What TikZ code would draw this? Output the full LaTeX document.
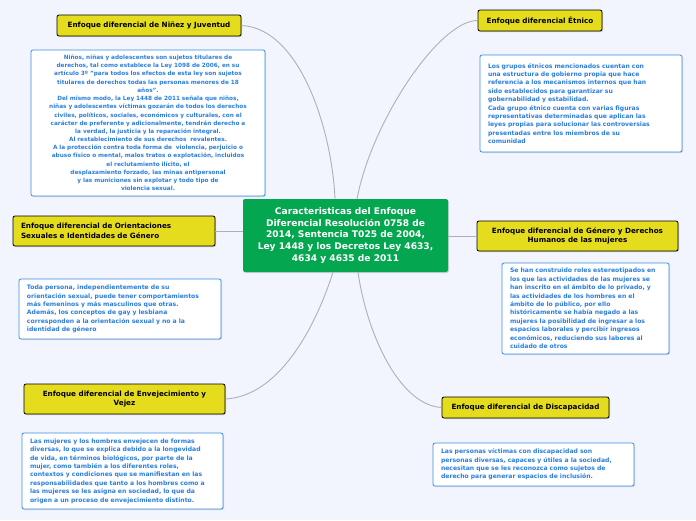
\documentclass[tikz,border=0pt]{standalone}
\usepackage{fontspec}
\setmainfont{DejaVu Sans}
\usepackage{tikz}
\usetikzlibrary{shadows}
\definecolor{bgcol}{HTML}{F2F5FD}
\definecolor{ramayel}{HTML}{E6DC1E}
\definecolor{centgreen}{HTML}{04A650}
\definecolor{notablue}{HTML}{3A8FE3}
\definecolor{notatext}{HTML}{2A7FDB}
\definecolor{linegray}{HTML}{B0B0B4}
\begin{document}
\begin{tikzpicture}[x=1pt, y=-1pt,
  rama/.style={draw=black, line width=0.8pt, fill=ramayel, rounded corners=2pt,
    inner sep=0pt, font=\bfseries\fontsize{7.2}{9.6}\selectfont,
    drop shadow={shadow xshift=1pt, shadow yshift=-1pt, opacity=0.35}},
  nota/.style={draw=notablue, line width=0.8pt, fill=white, rounded corners=2pt,
    inner xsep=8pt, inner ysep=0pt, text=notatext,
    font=\bfseries\fontsize{6.1}{8.4}\selectfont,
    drop shadow={shadow xshift=1pt, shadow yshift=-1pt, opacity=0.25}},
  enlace/.style={draw=linegray, line width=0.9pt}]
\fill[bgcol] (0,0) rectangle (696,520);
\useasboundingbox (0,0) rectangle (696,520);
% central topic
\node[fill=centgreen, rounded corners=2pt, minimum width=205pt, minimum height=73pt,
  inner sep=0pt, text=white, align=center, font=\bfseries\fontsize{9.1}{11.6}\selectfont,
  drop shadow={shadow xshift=1pt, shadow yshift=-1pt, opacity=0.3}] (centro) at (345.5,235.5)
  {Caracteristicas del Enfoque\\Diferencial Resolución 0758 de\\2014, Sentencia T025 de 2004,\\Ley 1448 y los Decretos Ley 4633,\\4634 y 4635 de 2011};
% ninez y juventud
\node[rama, minimum width=184pt, minimum height=21pt] (ninez) at (149,25.5)
  {Enfoque diferencial de Niñez y Juventud};
\node[nota, minimum width=234pt, minimum height=146pt, text width=222pt, inner xsep=6pt, align=center,
  font=\bfseries\fontsize{5.75}{8.2}\selectfont] (ninezt) at (148,123)
  {Niños, niñas y adolescentes son sujetos titulares de\\
   derechos, tal como establece la Ley 1098 de 2006, en su\\
   artículo 3º "para todos los efectos de esta ley son sujetos\\
   titulares de derechos todas las personas menores de 18\\
   años".\\
   Del mismo modo, la Ley 1448 de 2011 señala que niños,\\
   niñas y adolescentes víctimas gozarán de todos los derechos\\
   civiles, políticos, sociales, económicos y culturales, con el\\
   carácter de preferente y adicionalmente, tendrán derecho a\\
   la verdad, la justicia y la reparación integral.\\
   Al restablecimiento de sus derechos\ \ revalentes.\\
   A la protección contra toda forma de\ \ violencia, perjuicio o\\
   abuso físico o mental, malos tratos o explotación, incluidos\\
   el reclutamiento ilícito, el\\
   desplazamiento forzado, las minas antipersonal\\
   y las municiones sin explotar y todo tipo de\\
   violencia sexual.};
% etnico
\node[rama, minimum width=124pt, minimum height=21pt] (etnico) at (540,20.5)
  {Enfoque diferencial Étnico};
\node[nota, minimum width=202pt, minimum height=97pt, text width=186pt, align=left] (etnicot) at (581,103.5)
  {Los grupos étnicos mencionados cuentan con\\
   una estructura de gobierno propia que hace\\
   referencia a los mecanismos internos que han\\
   sido establecidos para garantizar su\\
   gobernabilidad y estabilidad.\\
   Cada grupo étnico cuenta con varias figuras\\
   representativas determinadas que aplican las\\
   leyes propias para solucionar las controversias\\
   presentadas entre los miembros de su\\
   comunidad};
% orientaciones sexuales
\node[rama, minimum width=202pt, minimum height=30pt, text width=186pt, align=left] (orient) at (114,231)
  {Enfoque diferencial de Orientaciones\\Sexuales e Identidades de Género};
\node[nota, minimum width=202pt, minimum height=60pt, text width=186pt, align=left] (orientt) at (120,309)
  {Toda persona, independientemente de su\\
   orientación sexual, puede tener comportamientos\\
   más femeninos y más masculinos que otras.\\
   Además, los conceptos de gay y lesbiana\\
   corresponden a la orientación sexual y no a la\\
   identidad de género};
% genero
\node[rama, minimum width=201pt, minimum height=30pt, align=center] (genero) at (577.5,236)
  {Enfoque diferencial de Género y Derechos\\Humanos de las mujeres};
\node[nota, minimum width=167pt, minimum height=91pt, text width=151pt, align=left] (generot) at (585.5,308.5)
  {Se han construido roles estereotipados en\\
   los que las actividades de las mujeres se\\
   han inscrito en el ámbito de lo privado, y\\
   las actividades de los hombres en el\\
   ámbito de lo público, por ello\\
   históricamente se había negado a las\\
   mujeres la posibilidad de ingresar a los\\
   espacios laborales y percibir ingresos\\
   económicos, reduciendo sus labores al\\
   cuidado de otros};
% envejecimiento
\node[rama, minimum width=201pt, minimum height=30pt, align=center] (envej) at (124.5,399)
  {Enfoque diferencial de Envejecimiento y\\Vejez};
\node[nota, minimum width=201pt, minimum height=76pt, text width=185pt, align=left] (envejt) at (122.5,471)
  {Las mujeres y los hombres envejecen de formas\\
   diversas, lo que se explica debido a la longevidad\\
   de vida, en términos biológicos, por parte de la\\
   mujer, como también a los diferentes roles,\\
   contextos y condiciones que se manifiestan en las\\
   responsabilidades que tanto a los hombres como a\\
   las mujeres se les asigna en sociedad, lo que da\\
   origen a un proceso de envejecimiento distinto.};
% discapacidad
\node[rama, minimum width=167pt, minimum height=21pt] (discap) at (525.5,407.5)
  {Enfoque diferencial de Discapacidad};
\node[nota, minimum width=201pt, minimum height=43pt, text width=185pt, align=left] (discapt) at (533.5,464.5)
  {Las personas víctimas con discapacidad son\\
   personas diversas, capaces y útiles a la sociedad,\\
   necesitan que se les reconozca como sujetos de\\
   derecho para generar espacios de inclusión.};
% connectors
\coordinate (arr1) at (335,199);
\coordinate (arr2) at (357,199);
\coordinate (aba1) at (333,272);
\coordinate (aba2) at (358,272);
\draw[enlace] (ninez.east) .. controls (300,28) and (332,130) .. (arr1);
\draw[enlace] (etnico.west) .. controls (440,20) and (372,120) .. (arr2);
\draw[enlace] (orient.east) -- (orient.east -| centro.west);
\draw[enlace] (genero.west) -- (genero.west -| centro.east);
\draw[enlace] (envej.east) .. controls (282,396) and (318,320) .. (aba1);
\draw[enlace] (discap.west) .. controls (398,405) and (366,330) .. (aba2);
\end{tikzpicture}
\end{document}
